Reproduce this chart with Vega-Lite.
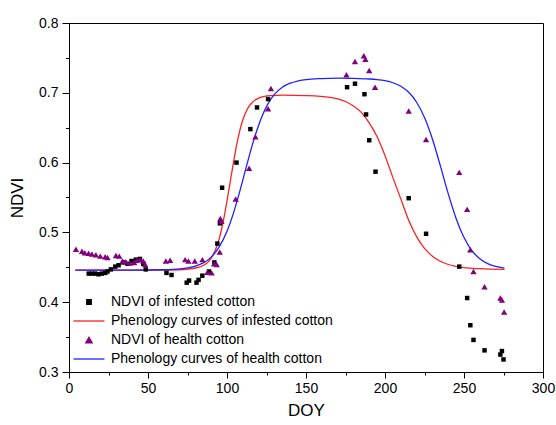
{
  "$schema": "https://vega.github.io/schema/vega-lite/v6.json",
  "width": 474,
  "height": 349,
  "autosize": {"type": "none"},
  "padding": {"left": 69, "top": 23, "right": 13, "bottom": 53},
  "background": "white",
  "config": {
    "view": {"stroke": "black", "strokeWidth": 1},
    "font": "Liberation Sans",
    "axis": {"grid": false, "labelFlush": false, "domainColor": "black", "tickColor": "black", "labelColor": "black", "titleColor": "black", "labelFont": "Liberation Sans", "titleFont": "Liberation Sans", "titleFontWeight": "normal"},
    "legend": {"orient": "none", "legendX": 13, "legendY": 272, "title": null, "padding": 0, "labelFontSize": 14, "labelColor": "black", "labelFont": "Liberation Sans", "labelOffset": 15, "labelLimit": 0, "rowPadding": 5, "symbolStrokeWidth": 1.3}
  },
  "datasets": {
    "pts": [
      {"s": "NDVI of infested cotton", "doy": 12.5, "ndvi": 0.441},
      {"s": "NDVI of infested cotton", "doy": 14.5, "ndvi": 0.441},
      {"s": "NDVI of infested cotton", "doy": 16.6, "ndvi": 0.441},
      {"s": "NDVI of infested cotton", "doy": 18.7, "ndvi": 0.440},
      {"s": "NDVI of infested cotton", "doy": 20.8, "ndvi": 0.441},
      {"s": "NDVI of infested cotton", "doy": 23, "ndvi": 0.442},
      {"s": "NDVI of infested cotton", "doy": 24.4, "ndvi": 0.444},
      {"s": "NDVI of infested cotton", "doy": 26.5, "ndvi": 0.447},
      {"s": "NDVI of infested cotton", "doy": 29.3, "ndvi": 0.451},
      {"s": "NDVI of infested cotton", "doy": 31.4, "ndvi": 0.453},
      {"s": "NDVI of infested cotton", "doy": 34.3, "ndvi": 0.457},
      {"s": "NDVI of infested cotton", "doy": 37, "ndvi": 0.455},
      {"s": "NDVI of infested cotton", "doy": 39.6, "ndvi": 0.459},
      {"s": "NDVI of infested cotton", "doy": 42.3, "ndvi": 0.461},
      {"s": "NDVI of infested cotton", "doy": 44.9, "ndvi": 0.462},
      {"s": "NDVI of infested cotton", "doy": 47, "ndvi": 0.455},
      {"s": "NDVI of infested cotton", "doy": 48.6, "ndvi": 0.447},
      {"s": "NDVI of infested cotton", "doy": 61.7, "ndvi": 0.442},
      {"s": "NDVI of infested cotton", "doy": 64.9, "ndvi": 0.439},
      {"s": "NDVI of infested cotton", "doy": 74.5, "ndvi": 0.428},
      {"s": "NDVI of infested cotton", "doy": 76, "ndvi": 0.431},
      {"s": "NDVI of infested cotton", "doy": 80.7, "ndvi": 0.428},
      {"s": "NDVI of infested cotton", "doy": 82, "ndvi": 0.432},
      {"s": "NDVI of infested cotton", "doy": 84.4, "ndvi": 0.438},
      {"s": "NDVI of infested cotton", "doy": 88.6, "ndvi": 0.444},
      {"s": "NDVI of infested cotton", "doy": 92, "ndvi": 0.457},
      {"s": "NDVI of infested cotton", "doy": 93.9, "ndvi": 0.484},
      {"s": "NDVI of infested cotton", "doy": 95.5, "ndvi": 0.513},
      {"s": "NDVI of infested cotton", "doy": 96.9, "ndvi": 0.564},
      {"s": "NDVI of infested cotton", "doy": 106, "ndvi": 0.600},
      {"s": "NDVI of infested cotton", "doy": 114.8, "ndvi": 0.648},
      {"s": "NDVI of infested cotton", "doy": 119, "ndvi": 0.679},
      {"s": "NDVI of infested cotton", "doy": 126, "ndvi": 0.691},
      {"s": "NDVI of infested cotton", "doy": 176, "ndvi": 0.708},
      {"s": "NDVI of infested cotton", "doy": 181, "ndvi": 0.713},
      {"s": "NDVI of infested cotton", "doy": 187, "ndvi": 0.698},
      {"s": "NDVI of infested cotton", "doy": 188, "ndvi": 0.669},
      {"s": "NDVI of infested cotton", "doy": 190, "ndvi": 0.632},
      {"s": "NDVI of infested cotton", "doy": 194, "ndvi": 0.587},
      {"s": "NDVI of infested cotton", "doy": 215, "ndvi": 0.549},
      {"s": "NDVI of infested cotton", "doy": 226, "ndvi": 0.498},
      {"s": "NDVI of infested cotton", "doy": 247, "ndvi": 0.451},
      {"s": "NDVI of infested cotton", "doy": 252, "ndvi": 0.406},
      {"s": "NDVI of infested cotton", "doy": 254, "ndvi": 0.367},
      {"s": "NDVI of infested cotton", "doy": 256, "ndvi": 0.346},
      {"s": "NDVI of infested cotton", "doy": 263, "ndvi": 0.331},
      {"s": "NDVI of infested cotton", "doy": 273, "ndvi": 0.325},
      {"s": "NDVI of infested cotton", "doy": 274, "ndvi": 0.330},
      {"s": "NDVI of infested cotton", "doy": 275, "ndvi": 0.318},
      {"s": "NDVI of health cotton", "doy": 4.4, "ndvi": 0.476},
      {"s": "NDVI of health cotton", "doy": 8.2, "ndvi": 0.473},
      {"s": "NDVI of health cotton", "doy": 10, "ndvi": 0.471},
      {"s": "NDVI of health cotton", "doy": 12.4, "ndvi": 0.470},
      {"s": "NDVI of health cotton", "doy": 14.5, "ndvi": 0.469},
      {"s": "NDVI of health cotton", "doy": 17, "ndvi": 0.468},
      {"s": "NDVI of health cotton", "doy": 19.8, "ndvi": 0.466},
      {"s": "NDVI of health cotton", "doy": 22.9, "ndvi": 0.465},
      {"s": "NDVI of health cotton", "doy": 24.4, "ndvi": 0.464},
      {"s": "NDVI of health cotton", "doy": 29.7, "ndvi": 0.467},
      {"s": "NDVI of health cotton", "doy": 31.8, "ndvi": 0.466},
      {"s": "NDVI of health cotton", "doy": 33.9, "ndvi": 0.459},
      {"s": "NDVI of health cotton", "doy": 36, "ndvi": 0.458},
      {"s": "NDVI of health cotton", "doy": 38.5, "ndvi": 0.456},
      {"s": "NDVI of health cotton", "doy": 41.3, "ndvi": 0.457},
      {"s": "NDVI of health cotton", "doy": 43, "ndvi": 0.460},
      {"s": "NDVI of health cotton", "doy": 44.9, "ndvi": 0.461},
      {"s": "NDVI of health cotton", "doy": 47, "ndvi": 0.459},
      {"s": "NDVI of health cotton", "doy": 48.2, "ndvi": 0.454},
      {"s": "NDVI of health cotton", "doy": 61.3, "ndvi": 0.459},
      {"s": "NDVI of health cotton", "doy": 64, "ndvi": 0.460},
      {"s": "NDVI of health cotton", "doy": 73.5, "ndvi": 0.461},
      {"s": "NDVI of health cotton", "doy": 75.6, "ndvi": 0.459},
      {"s": "NDVI of health cotton", "doy": 79.6, "ndvi": 0.459},
      {"s": "NDVI of health cotton", "doy": 84.4, "ndvi": 0.461},
      {"s": "NDVI of health cotton", "doy": 87.6, "ndvi": 0.443},
      {"s": "NDVI of health cotton", "doy": 90.3, "ndvi": 0.442},
      {"s": "NDVI of health cotton", "doy": 91.8, "ndvi": 0.455},
      {"s": "NDVI of health cotton", "doy": 93.5, "ndvi": 0.454},
      {"s": "NDVI of health cotton", "doy": 95.4, "ndvi": 0.472},
      {"s": "NDVI of health cotton", "doy": 95.8, "ndvi": 0.520},
      {"s": "NDVI of health cotton", "doy": 96.5, "ndvi": 0.516},
      {"s": "NDVI of health cotton", "doy": 105.5, "ndvi": 0.548},
      {"s": "NDVI of health cotton", "doy": 114, "ndvi": 0.592},
      {"s": "NDVI of health cotton", "doy": 118, "ndvi": 0.637},
      {"s": "NDVI of health cotton", "doy": 126, "ndvi": 0.677},
      {"s": "NDVI of health cotton", "doy": 127.8, "ndvi": 0.706},
      {"s": "NDVI of health cotton", "doy": 175.6, "ndvi": 0.726},
      {"s": "NDVI of health cotton", "doy": 181, "ndvi": 0.745},
      {"s": "NDVI of health cotton", "doy": 186.6, "ndvi": 0.753},
      {"s": "NDVI of health cotton", "doy": 187.6, "ndvi": 0.748},
      {"s": "NDVI of health cotton", "doy": 190, "ndvi": 0.732},
      {"s": "NDVI of health cotton", "doy": 193.7, "ndvi": 0.708},
      {"s": "NDVI of health cotton", "doy": 215, "ndvi": 0.674},
      {"s": "NDVI of health cotton", "doy": 226, "ndvi": 0.633},
      {"s": "NDVI of health cotton", "doy": 247, "ndvi": 0.586},
      {"s": "NDVI of health cotton", "doy": 252, "ndvi": 0.533},
      {"s": "NDVI of health cotton", "doy": 254, "ndvi": 0.475},
      {"s": "NDVI of health cotton", "doy": 256, "ndvi": 0.444},
      {"s": "NDVI of health cotton", "doy": 263, "ndvi": 0.422},
      {"s": "NDVI of health cotton", "doy": 273, "ndvi": 0.406},
      {"s": "NDVI of health cotton", "doy": 274, "ndvi": 0.403},
      {"s": "NDVI of health cotton", "doy": 275.4, "ndvi": 0.386}
    ],
    "curves": [
      {"s": "Phenology curves of infested cotton", "doy": 4, "ndvi": 0.446},
      {"s": "Phenology curves of infested cotton", "doy": 20, "ndvi": 0.446},
      {"s": "Phenology curves of infested cotton", "doy": 40, "ndvi": 0.446},
      {"s": "Phenology curves of infested cotton", "doy": 60, "ndvi": 0.446},
      {"s": "Phenology curves of infested cotton", "doy": 70, "ndvi": 0.4465},
      {"s": "Phenology curves of infested cotton", "doy": 80, "ndvi": 0.449},
      {"s": "Phenology curves of infested cotton", "doy": 85, "ndvi": 0.4526},
      {"s": "Phenology curves of infested cotton", "doy": 88, "ndvi": 0.4577},
      {"s": "Phenology curves of infested cotton", "doy": 90, "ndvi": 0.4632},
      {"s": "Phenology curves of infested cotton", "doy": 92, "ndvi": 0.4715},
      {"s": "Phenology curves of infested cotton", "doy": 94, "ndvi": 0.483},
      {"s": "Phenology curves of infested cotton", "doy": 96, "ndvi": 0.499},
      {"s": "Phenology curves of infested cotton", "doy": 98, "ndvi": 0.520},
      {"s": "Phenology curves of infested cotton", "doy": 100, "ndvi": 0.545},
      {"s": "Phenology curves of infested cotton", "doy": 102, "ndvi": 0.572},
      {"s": "Phenology curves of infested cotton", "doy": 104, "ndvi": 0.599},
      {"s": "Phenology curves of infested cotton", "doy": 106, "ndvi": 0.624},
      {"s": "Phenology curves of infested cotton", "doy": 108, "ndvi": 0.645},
      {"s": "Phenology curves of infested cotton", "doy": 110, "ndvi": 0.661},
      {"s": "Phenology curves of infested cotton", "doy": 112, "ndvi": 0.6725},
      {"s": "Phenology curves of infested cotton", "doy": 114, "ndvi": 0.681},
      {"s": "Phenology curves of infested cotton", "doy": 116, "ndvi": 0.686},
      {"s": "Phenology curves of infested cotton", "doy": 118, "ndvi": 0.690},
      {"s": "Phenology curves of infested cotton", "doy": 120, "ndvi": 0.6925},
      {"s": "Phenology curves of infested cotton", "doy": 124, "ndvi": 0.695},
      {"s": "Phenology curves of infested cotton", "doy": 128, "ndvi": 0.696},
      {"s": "Phenology curves of infested cotton", "doy": 135, "ndvi": 0.6967},
      {"s": "Phenology curves of infested cotton", "doy": 150, "ndvi": 0.696},
      {"s": "Phenology curves of infested cotton", "doy": 165, "ndvi": 0.6935},
      {"s": "Phenology curves of infested cotton", "doy": 175, "ndvi": 0.6875},
      {"s": "Phenology curves of infested cotton", "doy": 180, "ndvi": 0.681},
      {"s": "Phenology curves of infested cotton", "doy": 185, "ndvi": 0.672},
      {"s": "Phenology curves of infested cotton", "doy": 190, "ndvi": 0.657},
      {"s": "Phenology curves of infested cotton", "doy": 195, "ndvi": 0.637},
      {"s": "Phenology curves of infested cotton", "doy": 200, "ndvi": 0.610},
      {"s": "Phenology curves of infested cotton", "doy": 205, "ndvi": 0.5785},
      {"s": "Phenology curves of infested cotton", "doy": 210, "ndvi": 0.548},
      {"s": "Phenology curves of infested cotton", "doy": 215, "ndvi": 0.5175},
      {"s": "Phenology curves of infested cotton", "doy": 220, "ndvi": 0.494},
      {"s": "Phenology curves of infested cotton", "doy": 225, "ndvi": 0.477},
      {"s": "Phenology curves of infested cotton", "doy": 230, "ndvi": 0.466},
      {"s": "Phenology curves of infested cotton", "doy": 235, "ndvi": 0.4586},
      {"s": "Phenology curves of infested cotton", "doy": 240, "ndvi": 0.454},
      {"s": "Phenology curves of infested cotton", "doy": 250, "ndvi": 0.4495},
      {"s": "Phenology curves of infested cotton", "doy": 260, "ndvi": 0.448},
      {"s": "Phenology curves of infested cotton", "doy": 275.6, "ndvi": 0.447},
      {"s": "Phenology curves of health cotton", "doy": 4, "ndvi": 0.446},
      {"s": "Phenology curves of health cotton", "doy": 20, "ndvi": 0.446},
      {"s": "Phenology curves of health cotton", "doy": 40, "ndvi": 0.446},
      {"s": "Phenology curves of health cotton", "doy": 60, "ndvi": 0.4465},
      {"s": "Phenology curves of health cotton", "doy": 70, "ndvi": 0.4476},
      {"s": "Phenology curves of health cotton", "doy": 80, "ndvi": 0.4516},
      {"s": "Phenology curves of health cotton", "doy": 85, "ndvi": 0.4563},
      {"s": "Phenology curves of health cotton", "doy": 90, "ndvi": 0.4646},
      {"s": "Phenology curves of health cotton", "doy": 95, "ndvi": 0.4788},
      {"s": "Phenology curves of health cotton", "doy": 100, "ndvi": 0.5015},
      {"s": "Phenology curves of health cotton", "doy": 104, "ndvi": 0.5269},
      {"s": "Phenology curves of health cotton", "doy": 108, "ndvi": 0.558},
      {"s": "Phenology curves of health cotton", "doy": 111, "ndvi": 0.5835},
      {"s": "Phenology curves of health cotton", "doy": 114, "ndvi": 0.609},
      {"s": "Phenology curves of health cotton", "doy": 118, "ndvi": 0.640},
      {"s": "Phenology curves of health cotton", "doy": 122, "ndvi": 0.6655},
      {"s": "Phenology curves of health cotton", "doy": 126, "ndvi": 0.6844},
      {"s": "Phenology curves of health cotton", "doy": 130, "ndvi": 0.6977},
      {"s": "Phenology curves of health cotton", "doy": 135, "ndvi": 0.708},
      {"s": "Phenology curves of health cotton", "doy": 140, "ndvi": 0.7138},
      {"s": "Phenology curves of health cotton", "doy": 145, "ndvi": 0.717},
      {"s": "Phenology curves of health cotton", "doy": 150, "ndvi": 0.719},
      {"s": "Phenology curves of health cotton", "doy": 160, "ndvi": 0.7204},
      {"s": "Phenology curves of health cotton", "doy": 170, "ndvi": 0.721},
      {"s": "Phenology curves of health cotton", "doy": 180, "ndvi": 0.7207},
      {"s": "Phenology curves of health cotton", "doy": 190, "ndvi": 0.7198},
      {"s": "Phenology curves of health cotton", "doy": 195, "ndvi": 0.7189},
      {"s": "Phenology curves of health cotton", "doy": 200, "ndvi": 0.7173},
      {"s": "Phenology curves of health cotton", "doy": 205, "ndvi": 0.7144},
      {"s": "Phenology curves of health cotton", "doy": 210, "ndvi": 0.7093},
      {"s": "Phenology curves of health cotton", "doy": 215, "ndvi": 0.7007},
      {"s": "Phenology curves of health cotton", "doy": 220, "ndvi": 0.6865},
      {"s": "Phenology curves of health cotton", "doy": 225, "ndvi": 0.6645},
      {"s": "Phenology curves of health cotton", "doy": 230, "ndvi": 0.6337},
      {"s": "Phenology curves of health cotton", "doy": 235, "ndvi": 0.5956},
      {"s": "Phenology curves of health cotton", "doy": 240, "ndvi": 0.5555},
      {"s": "Phenology curves of health cotton", "doy": 245, "ndvi": 0.520},
      {"s": "Phenology curves of health cotton", "doy": 250, "ndvi": 0.4927},
      {"s": "Phenology curves of health cotton", "doy": 255, "ndvi": 0.474},
      {"s": "Phenology curves of health cotton", "doy": 260, "ndvi": 0.4623},
      {"s": "Phenology curves of health cotton", "doy": 265, "ndvi": 0.4553},
      {"s": "Phenology curves of health cotton", "doy": 270, "ndvi": 0.4512},
      {"s": "Phenology curves of health cotton", "doy": 275.6, "ndvi": 0.4487}
    ]
  },
  "layer": [
    {
      "data": {"name": "curves"},
      "mark": {"type": "line", "strokeWidth": 1.3, "interpolate": "monotone"},
      "encoding": {
        "x": {"field": "doy", "type": "quantitative", "scale": {"domain": [0, 300], "nice": false},
          "axis": {"values": [0, 50, 100, 150, 200, 250, 300], "tickSize": 6, "labelFontSize": 14, "labelPadding": 3, "title": "DOY", "titleFontSize": 17, "titlePadding": 7}},
        "y": {"field": "ndvi", "type": "quantitative", "scale": {"domain": [0.3, 0.8], "nice": false, "zero": false},
          "axis": {"values": [0.3, 0.4, 0.5, 0.6, 0.7, 0.8], "format": ".1f", "tickSize": 7, "labelFontSize": 14, "labelPadding": 4, "title": "NDVI", "titleFontSize": 17, "titlePadding": 12}},
        "color": {"field": "s", "type": "nominal",
          "scale": {"domain": ["NDVI of infested cotton", "Phenology curves of infested cotton", "NDVI of health cotton", "Phenology curves of health cotton"], "range": ["black", "#ff2020", "#800080", "#2020ff"]}}
      }
    },
    {
      "data": {"name": "pts"},
      "mark": {"type": "point", "filled": true, "opacity": 1},
      "encoding": {
        "x": {"field": "doy", "type": "quantitative",
          "axis": {"orient": "bottom", "values": [25, 75, 125, 175, 225, 275], "tickSize": 3, "labels": false, "domain": false, "title": null}},
        "y": {"field": "ndvi", "type": "quantitative",
          "axis": {"orient": "left", "values": [0.35, 0.45, 0.55, 0.65, 0.75], "tickSize": 3.5, "labels": false, "domain": false, "title": null}},
        "color": {"field": "s", "type": "nominal",
          "scale": {"domain": ["NDVI of infested cotton", "Phenology curves of infested cotton", "NDVI of health cotton", "Phenology curves of health cotton"], "range": ["black", "#ff2020", "#800080", "#2020ff"]},
          "legend": {"encode": {"symbols": {"update": {"stroke": [{"test": "indexof(datum.value, 'Phenology') >= 0", "scale": "color", "field": "value"}, {"value": "transparent"}]}}}}},
        "shape": {"field": "s", "type": "nominal",
          "scale": {"domain": ["NDVI of infested cotton", "Phenology curves of infested cotton", "NDVI of health cotton", "Phenology curves of health cotton"], "range": ["square", "M-6.2,0H6.2", "triangle-up", "M-6.2,0H6.2"]}},
        "size": {"field": "s", "type": "nominal",
          "scale": {"type": "ordinal", "domain": ["NDVI of infested cotton", "Phenology curves of infested cotton", "NDVI of health cotton", "Phenology curves of health cotton"], "range": [20, 25, 40, 25]}}
      }
    }
  ],
  "resolve": {"axis": {"x": "independent", "y": "independent"}}
}
